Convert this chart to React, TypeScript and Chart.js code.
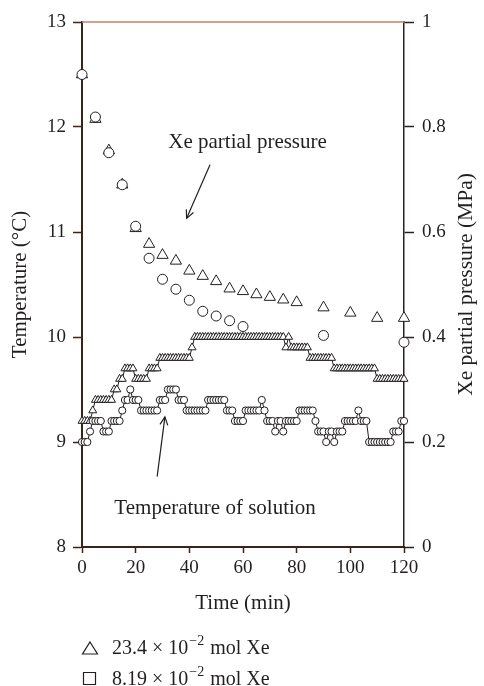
import { useEffect, useRef } from "react";
import { Chart, registerables } from "chart.js";
Chart.register(...registerables);

const FONT = "'Liberation Serif', 'Times New Roman', serif";
const INK = "#231f20";

// Xe partial pressure (MPa)
const pressTriTimes = [0, 5, 10, 15, 20, 25, 30, 35, 40, 45, 50, 55, 60, 65, 70, 75, 80, 90, 100, 110, 120];
const pressTriValues = [0.9, 0.815, 0.755, 0.69, 0.607, 0.577, 0.556, 0.545, 0.526, 0.516, 0.506, 0.492, 0.487, 0.481, 0.476, 0.471, 0.466, 0.456, 0.446, 0.436, 0.436];
const pressCircTimes = [0, 5, 10, 15, 20, 25, 30, 35, 40, 45, 50, 55, 60, 90, 120];
const pressCircValues = [0.9, 0.819, 0.751, 0.69, 0.611, 0.55, 0.51, 0.491, 0.47, 0.449, 0.44, 0.431, 0.42, 0.403, 0.39];

// Temperature of solution (°C), one reading per minute, t = 0..120
const tempTri = [
  9.2, 9.2, 9.2, 9.2, 9.3, 9.4, 9.4, 9.4, 9.4, 9.4, 9.4, 9.4, 9.5, 9.5, 9.6, 9.6, 9.7, 9.7, 9.7, 9.7,
  9.6, 9.6, 9.6, 9.6, 9.6, 9.7, 9.7, 9.7, 9.7, 9.8, 9.8, 9.8, 9.8, 9.8, 9.8, 9.8, 9.8, 9.8, 9.8, 9.8,
  9.8, 9.9, 10.0, 10.0, 10.0, 10.0, 10.0, 10.0, 10.0, 10.0, 10.0, 10.0, 10.0, 10.0, 10.0, 10.0, 10.0, 10.0, 10.0, 10.0,
  10.0, 10.0, 10.0, 10.0, 10.0, 10.0, 10.0, 10.0, 10.0, 10.0, 10.0, 10.0, 10.0, 10.0, 10.0, 10.0, 9.9, 10.0, 9.9, 9.9,
  9.9, 9.9, 9.9, 9.9, 9.9, 9.8, 9.8, 9.8, 9.8, 9.8, 9.8, 9.8, 9.8, 9.8, 9.7, 9.7, 9.7, 9.7, 9.7, 9.7,
  9.7, 9.7, 9.7, 9.7, 9.7, 9.7, 9.7, 9.7, 9.7, 9.7, 9.6, 9.6, 9.6, 9.6, 9.6, 9.6, 9.6, 9.6, 9.6, 9.6,
  9.6,
];
const tempCirc = [
  9.0, 9.0, 9.0, 9.1, 9.2, 9.2, 9.2, 9.2, 9.1, 9.1, 9.1, 9.2, 9.2, 9.2, 9.2, 9.3, 9.4, 9.4, 9.5, 9.4,
  9.4, 9.4, 9.3, 9.3, 9.3, 9.3, 9.3, 9.3, 9.3, 9.4, 9.4, 9.4, 9.5, 9.5, 9.5, 9.5, 9.4, 9.4, 9.4, 9.3,
  9.3, 9.3, 9.3, 9.3, 9.3, 9.3, 9.3, 9.4, 9.4, 9.4, 9.4, 9.4, 9.4, 9.4, 9.3, 9.3, 9.3, 9.2, 9.2, 9.2,
  9.2, 9.3, 9.3, 9.3, 9.3, 9.3, 9.3, 9.4, 9.3, 9.2, 9.2, 9.2, 9.1, 9.2, 9.2, 9.1, 9.2, 9.2, 9.2, 9.2,
  9.2, 9.3, 9.3, 9.3, 9.3, 9.3, 9.3, 9.2, 9.1, 9.1, 9.1, 9.0, 9.1, 9.1, 9.0, 9.1, 9.1, 9.1, 9.2, 9.2,
  9.2, 9.2, 9.2, 9.3, 9.2, 9.2, 9.2, 9.0, 9.0, 9.0, 9.0, 9.0, 9.0, 9.0, 9.0, 9.0, 9.1, 9.1, 9.1, 9.2,
  9.2,
];
const minutes = tempTri.map((_, i) => i);

const tempTicks = [8, 9, 10, 11, 12, 13];
const pressTickLabels = ["0", "0.2", "0.4", "0.6", "0.8", "1"];
const timeTicks = [0, 20, 40, 60, 80, 100, 120];

const legendLabels = ["23.4 × 10", "8.19 × 10"];
const legendSup = "−2";
const legendTail = " mol Xe";

const pts = (xs: number[], ys: number[]) => xs.map((x, i) => ({ x, y: ys[i] }));

export default function App() {
  const ref = useRef<HTMLCanvasElement>(null);
  useEffect(() => {
    if (!ref.current) return;
    const annotate = {
      id: "annotate",
      afterDraw(chart: any) {
        const { ctx, chartArea: a, scales } = chart;
        const X = scales.x;
        const Y = scales.y;
        const px = (t: number) => X.getPixelForValue(t);
        const py = (v: number) => Y.getPixelForValue(v);
        ctx.save();
        // top frame line
        ctx.strokeStyle = "#c4826e";
        ctx.lineWidth = 1.5;
        ctx.beginPath();
        ctx.moveTo(a.left, a.top);
        ctx.lineTo(a.right, a.top);
        ctx.stroke();

        ctx.fillStyle = INK;
        ctx.strokeStyle = INK;
        ctx.font = `21px ${FONT}`;
        ctx.textAlign = "center";
        ctx.textBaseline = "middle";
        // axis titles
        const midY = (a.top + a.bottom) / 2;
        ctx.save();
        ctx.translate(20, midY);
        ctx.rotate(-Math.PI / 2);
        ctx.fillText("Temperature (°C)", 0, 0);
        ctx.restore();
        ctx.save();
        ctx.translate(466, midY);
        ctx.rotate(-Math.PI / 2);
        ctx.font = `21.5px ${FONT}`;
        ctx.fillText("Xe partial pressure (MPa)", 0, 0);
        ctx.restore();
        ctx.fillText("Time (min)", (a.left + a.right) / 2, 603);

        // annotations
        ctx.font = `21px ${FONT}`;
        ctx.fillText("Xe partial pressure", px(61.7), py(11.85));
        ctx.fillText("Temperature of solution", px(49.6), py(8.37));

        const arrow = (x1: number, y1: number, x2: number, y2: number) => {
          ctx.lineWidth = 1.2;
          ctx.beginPath();
          ctx.moveTo(x1, y1);
          ctx.lineTo(x2, y2);
          ctx.stroke();
          const ang = Math.atan2(y2 - y1, x2 - x1);
          const L = 9;
          ctx.beginPath();
          ctx.moveTo(x2 - L * Math.cos(ang - 0.45), y2 - L * Math.sin(ang - 0.45));
          ctx.lineTo(x2, y2);
          ctx.lineTo(x2 - L * Math.cos(ang + 0.45), y2 - L * Math.sin(ang + 0.45));
          ctx.stroke();
        };
        arrow(px(47.7), py(11.64), px(39.0), py(11.13));
        arrow(px(28.0), py(8.67), px(30.9), py(9.24));

        // legend
        ctx.textAlign = "left";
        ctx.textBaseline = "alphabetic";
        ctx.lineWidth = 1.2;
        const rows = [654, 685];
        rows.forEach((base, i) => {
          ctx.beginPath();
          if (i === 0) {
            ctx.moveTo(90, base - 12);
            ctx.lineTo(97.5, base);
            ctx.lineTo(82.5, base);
            ctx.closePath();
          } else {
            ctx.rect(83.5, base - 12.5, 12, 12);
          }
          ctx.stroke();
          ctx.font = `20px ${FONT}`;
          ctx.fillText(legendLabels[i], 112, base);
          const w = ctx.measureText(legendLabels[i]).width;
          ctx.font = `14px ${FONT}`;
          ctx.fillText(legendSup, 112 + w + 1, base - 9);
          const ws = ctx.measureText(legendSup).width;
          ctx.font = `20px ${FONT}`;
          ctx.fillText(legendTail, 112 + w + ws + 2, base);
        });
        ctx.restore();
      },
    };

    const common = {
      pointBackgroundColor: "#ffffff",
      pointBorderColor: INK,
      pointBorderWidth: 1,
      borderColor: INK,
      borderWidth: 1,
      clip: false as any,
    };

    const chart = new Chart(ref.current, {
      type: "scatter",
      data: {
        datasets: [
          {
            ...common,
            label: "pressure 8.19",
            data: pts(pressCircTimes, pressCircValues),
            yAxisID: "y1",
            pointStyle: "circle",
            pointRadius: 5,
            showLine: false,
          },
          {
            ...common,
            label: "pressure 23.4",
            data: pts(pressTriTimes, pressTriValues),
            yAxisID: "y1",
            pointStyle: "triangle",
            pointRadius: 6.5,
            showLine: false,
          },
          {
            ...common,
            label: "temp 8.19",
            data: pts(minutes, tempCirc),
            yAxisID: "y",
            pointStyle: "circle",
            pointRadius: 3.6,
            showLine: true,
          },
          {
            ...common,
            label: "temp 23.4",
            data: pts(minutes, tempTri),
            yAxisID: "y",
            pointStyle: "triangle",
            pointRadius: 4.6,
            showLine: true,
          },
        ] as any,
      },
      options: {
        animation: false,
        responsive: true,
        maintainAspectRatio: false,
        layout: { padding: { top: 22, left: 0, right: 0, bottom: 0 } },
        plugins: { legend: { display: false }, tooltip: { enabled: false } },
        scales: {
          x: {
            type: "linear",
            min: 0,
            max: 120,
            afterFit: (s: any) => { s.height = 139; },
            afterBuildTicks: (s: any) => { s.ticks = timeTicks.map((v) => ({ value: v })); },
            border: { color: "#3b2318", width: 2 },
            grid: { drawOnChartArea: false, tickLength: 6, tickColor: "#3b2318", tickWidth: 1.5 },
            ticks: { color: INK, font: { family: FONT, size: 19 }, padding: 4, maxRotation: 0 },
          },
          y: {
            position: "left",
            min: 8,
            max: 13,
            afterFit: (s: any) => { s.width = 82; },
            afterBuildTicks: (s: any) => { s.ticks = tempTicks.map((v) => ({ value: v })); },
            border: { color: "#3b2318", width: 2 },
            grid: { drawOnChartArea: false, tickLength: 9, tickColor: "#3b2318", tickWidth: 1.5 },
            ticks: { color: INK, font: { family: FONT, size: 19 }, padding: 7 },
          },
          y1: {
            position: "right",
            min: 0,
            max: 1,
            afterFit: (s: any) => { s.width = 80; },
            afterBuildTicks: (s: any) => { s.ticks = pressTickLabels.map((l) => ({ value: parseFloat(l) })); },
            border: { color: "#2a2020", width: 1.5 },
            grid: { drawOnChartArea: false, tickLength: 10, tickColor: "#2a2020", tickWidth: 1.5 },
            ticks: {
              color: INK,
              font: { family: FONT, size: 19 },
              padding: 8,
              callback: (v: any) => pressTickLabels[Math.round(Number(v) * 5)],
            },
          },
        },
      } as any,
      plugins: [annotate],
    });
    return () => chart.destroy();
  }, []);
  return (
    <div style={{ position: "fixed", left: 0, top: 0, width: 484, height: 686, background: "#fff" }}>
      <canvas ref={ref} />
    </div>
  );
}
